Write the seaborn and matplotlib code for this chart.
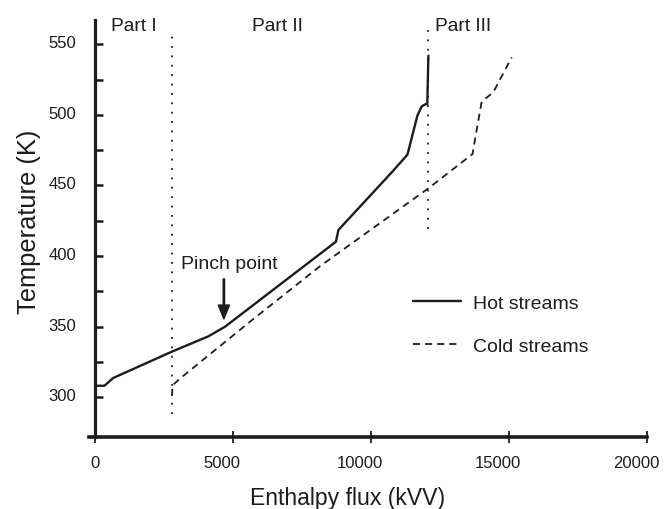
import matplotlib
matplotlib.use("Agg")
import matplotlib.pyplot as plt
import matplotlib.transforms as mtransforms
from matplotlib.ticker import FixedLocator
import pandas as pd
import seaborn as sns

# composite curves (enthalpy flux in kW, temperature in K)
hot_x = [100, 340, 660, 2780, 4110, 4710, 8730, 8820, 10750, 11320, 11680, 11840, 11990, 12040, 12080]
hot_y = [308.2, 308.2, 313.7, 332.3, 343.2, 350.0, 410.2, 418.5, 459.3, 471.8, 499.4, 506.1, 507.7, 507.7, 541.9]

cold_x = [2790, 2810, 3060, 5740, 8150, 12080, 13680, 13730, 14010, 14430, 15100]
cold_y = [301.0, 308.5, 313.0, 355.5, 392.8, 448.0, 472.3, 478.2, 509.3, 516.0, 540.8]

# boundaries between the parts
part_x = [2780, 12080]
part_ymin = [288.2, 419.2]
part_ymax = [559.6, 563.0]
part_labels = ["Part I", "Part II", "Part III"]
part_label_x = [580, 5700, 12320]

pinch_x = 4670
pinch_y = [383.8, 355.5]

x_ticks = [0, 5000, 10000, 15000, 20000]
y_ticks = [300, 350, 400, 450, 500, 550]
y_minor = [325, 375, 425, 475, 525]

sns.set_style("ticks")
plt.rcParams["font.family"] = ["Liberation Sans", "DejaVu Sans"]
ink = "#1c1c1c"

fig = plt.figure(figsize=(6.65, 5.1), dpi=100)
ax = fig.add_axes([0.1331, 0.1406, 0.8398, 0.8188])

hot = pd.DataFrame({"H": hot_x, "T": hot_y})
cold = pd.DataFrame({"H": cold_x, "T": cold_y})
sns.lineplot(data=hot, x="H", y="T", sort=False, ax=ax, color=ink, lw=1.7,
             label="Hot streams")
sns.lineplot(data=cold, x="H", y="T", sort=False, ax=ax, color=ink, lw=1.3,
             label="Cold streams")
ax.lines[1].set_dashes((3.9, 2.8))

for xx, y0, y1 in zip(part_x, part_ymin, part_ymax):
    ax.vlines(xx, y0, y1, colors=ink, linestyles=(0, (1, 4.2)), lw=1.3)

for lbl, xx in zip(part_labels, part_label_x):
    ax.text(xx, 563.2, lbl, fontsize=13.8, color=ink, ha="left", va="center", clip_on=False)

ax.annotate("", xy=(pinch_x, pinch_y[1]), xytext=(pinch_x, pinch_y[0]),
            arrowprops=dict(facecolor=ink, edgecolor=ink, width=1.0, headwidth=8,
                            headlength=10, shrink=0))
ax.text(4860, 395.1, "Pinch point", fontsize=14, color=ink, ha="center", va="center")

ax.set_xlim(-235, 20000)
ax.set_ylim(271.7, 567.4)
ax.spines["left"].set_position(("data", 0))
ax.spines["top"].set_visible(False)
ax.spines["right"].set_visible(False)
ax.spines["left"].set_linewidth(2.3)
ax.spines["bottom"].set_linewidth(2.6)
ax.spines["left"].set_color(ink)
ax.spines["bottom"].set_color(ink)

ax.set_xticks(x_ticks)
ax.set_yticks(y_ticks)
ax.yaxis.set_minor_locator(FixedLocator(y_minor))
ax.xaxis.set_minor_locator(FixedLocator([]))
ax.tick_params(axis="x", direction="inout", length=9, width=1.3, pad=8.4, colors=ink,
               labelsize=12)
ax.tick_params(axis="y", which="both", direction="in", length=6, width=1.8, pad=13.5,
               colors=ink, labelsize=12)
# the labels in the original sit a little off their ticks
up = mtransforms.ScaledTranslation(0, 3 / 100, fig.dpi_scale_trans)
for lbl in ax.get_yticklabels():
    lbl.set_transform(lbl.get_transform() + up)
left = mtransforms.ScaledTranslation(-11 / 100, 0, fig.dpi_scale_trans)
for lbl in ax.get_xticklabels()[1:]:
    lbl.set_transform(lbl.get_transform() + left)

ax.set_xlabel("Enthalpy flux (kVV)", fontsize=16.6, color=ink)
ax.set_ylabel("Temperature (K)", fontsize=18.4, color=ink)
ax.xaxis.set_label_coords(0.463, -0.117)
ax.yaxis.set_label_coords(-0.085, 0.5187)

ax.legend(loc="center left", bbox_to_anchor=(0.5816, 0.270), frameon=False, fontsize=14,
          handlelength=2.47, handletextpad=0.6, labelspacing=1.3, borderpad=0,
          borderaxespad=0, labelcolor=ink)

fig.savefig("out.png", dpi=100, facecolor="white")
